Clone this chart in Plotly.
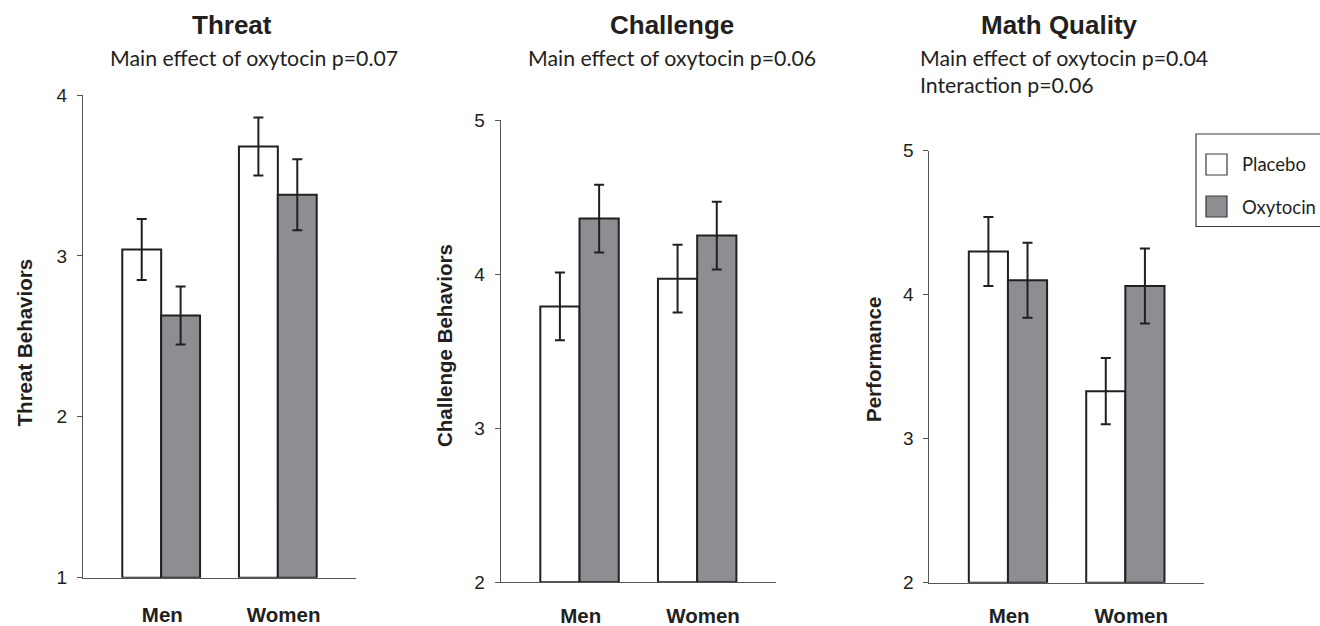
import plotly.graph_objects as go

# ---- data -------------------------------------------------------------
groups = ["Men", "Women"]
conditions = ["Placebo", "Oxytocin"]

threat_placebo = [3.04, 3.68]
threat_oxytocin = [2.63, 3.38]
threat_placebo_se = [0.19, 0.18]
threat_oxytocin_se = [0.18, 0.22]

challenge_placebo = [3.79, 3.97]
challenge_oxytocin = [4.36, 4.25]
challenge_placebo_se = [0.22, 0.22]
challenge_oxytocin_se = [0.22, 0.22]

math_placebo = [4.30, 3.33]
math_oxytocin = [4.10, 4.06]
math_placebo_se = [0.24, 0.23]
math_oxytocin_se = [0.26, 0.26]

panel_titles = ["Threat", "Challenge", "Math Quality"]
panel_notes = [
    ["Main effect of oxytocin p=0.07"],
    ["Main effect of oxytocin p=0.06"],
    ["Main effect of oxytocin p=0.04", "Interaction p=0.06"],
]
y_titles = ["Threat Behaviors", "Challenge Behaviors", "Performance"]
y_tick_values = [[1, 2, 3, 4], [2, 3, 4, 5], [2, 3, 4, 5]]

# ---- styling / layout --------------------------------------------------
W, H = 1320, 626
INK = "#231f20"
AXIS = "#555555"
FILL = {"Placebo": "#ffffff", "Oxytocin": "#8d8e92"}
BOLD_FONT = "Liberation Sans, Arial, sans-serif"
TEXT_FONT = "Lato, Calibri, sans-serif"


def fx(px):
    return px / W


def fy(py):
    return 1 - py / H


# pixel boxes of each plotting area: (left, right, top, bottom)
boxes = [(83, 356, 95, 577.7), (500.7, 776, 120, 582.3), (929.3, 1204, 150.7, 582.7)]
label_standoff = [19, 15, 15]
ytitle_pos = [(24.4, 343), (444, 346), (873, 360)]
title_pos = [(232, 25), (672, 25), (1059, 25)]
note_pos = [(254, 58, "center"), (672, 58, "center"), (918, 58, "left")]

panel_data = [
    (threat_placebo, threat_oxytocin, threat_placebo_se, threat_oxytocin_se),
    (challenge_placebo, challenge_oxytocin, challenge_placebo_se, challenge_oxytocin_se),
    (math_placebo, math_oxytocin, math_placebo_se, math_oxytocin_se),
]

fig = go.Figure()
annotations = []
x_pos = list(range(len(groups)))

for i, (plc, oxy, plc_se, oxy_se) in enumerate(panel_data):
    sfx = "" if i == 0 else str(i + 1)
    lo, hi = y_tick_values[i][0], y_tick_values[i][-1]
    for name, vals, se in (("Placebo", plc, plc_se), ("Oxytocin", oxy, oxy_se)):
        fig.add_trace(
            go.Bar(
                x=x_pos,
                y=[v - lo for v in vals],
                base=lo,
                name=name,
                showlegend=False,
                marker=dict(color=FILL[name], line=dict(color=INK, width=2)),
                error_y=dict(type="data", array=se, visible=True,
                             color=INK, thickness=2, width=5),
                xaxis="x" + sfx,
                yaxis="y" + sfx,
                offsetgroup=name,
            )
        )

    left, right, top, bottom = boxes[i]
    fig.layout["xaxis" + sfx] = dict(
        domain=[fx(left), fx(right)],
        anchor="y" + sfx,
        range=[-0.67, 1.67],
        tickmode="array",
        tickvals=[0.01, 1.05],
        ticktext=groups,
        ticks="",
        showline=True,
        linecolor=AXIS,
        linewidth=1,
        showgrid=False,
        zeroline=False,
        automargin=False,
        ticklabelstandoff=label_standoff[i],
        tickfont=dict(family=BOLD_FONT, size=20.5, color=INK, weight="bold"),
        fixedrange=True,
    )
    fig.layout["yaxis" + sfx] = dict(
        domain=[fy(bottom), fy(top)],
        anchor="x" + sfx,
        range=[lo, hi],
        tickmode="array",
        tickvals=y_tick_values[i],
        ticks="outside",
        ticklen=5,
        tickwidth=1,
        tickcolor=AXIS,
        showline=True,
        linecolor=AXIS,
        linewidth=1,
        showgrid=False,
        zeroline=False,
        automargin=False,
        ticklabelstandoff=6,
        tickfont=dict(family=BOLD_FONT, size=19, color=INK),
        fixedrange=True,
    )

    # panel heading and statistics note
    tx, ty = title_pos[i]
    annotations.append(dict(
        x=fx(tx), y=fy(ty), xref="paper", yref="paper", showarrow=False,
        text=panel_titles[i], xanchor="center", yanchor="middle",
        font=dict(family=BOLD_FONT, size=26, color=INK, weight="bold"),
    ))
    nx, ny, align = note_pos[i]
    for k, line in enumerate(panel_notes[i]):
        annotations.append(dict(
            x=fx(nx), y=fy(ny + 27 * k), xref="paper", yref="paper", showarrow=False,
            text=line, xanchor=align, yanchor="middle",
            font=dict(family=TEXT_FONT, size=21.3, color=INK),
        ))

    # vertical axis label
    ax_, ay_ = ytitle_pos[i]
    annotations.append(dict(
        x=fx(ax_), y=fy(ay_), xref="paper", yref="paper", showarrow=False,
        text=y_titles[i], textangle=-90, xanchor="center", yanchor="middle",
        font=dict(family=BOLD_FONT, size=20.5, color=INK, weight="bold"),
    ))

# ---- key for the two conditions (box runs off the right edge) -----------
key_left, key_top, key_bottom, key_far = 1196, 134, 226.5, 1330
key_outline = (
    f"M {fx(key_far)},{fy(key_top)} L {fx(key_left)},{fy(key_top)} "
    f"L {fx(key_left)},{fy(key_bottom)} L {fx(key_far)},{fy(key_bottom)}"
)
shapes = [dict(type="path", xref="paper", yref="paper", path=key_outline,
               line=dict(color="#3a3a3a", width=1.2))]
key_rows = [164.5, 206.5]
for name, cy in zip(conditions, key_rows):
    shapes.append(dict(type="rect", xref="paper", yref="paper",
                       x0=fx(1206), x1=fx(1227), y0=fy(cy + 10.5), y1=fy(cy - 10.5),
                       line=dict(color="#3a3a3a", width=1.2), fillcolor=FILL[name]))
    annotations.append(dict(
        x=fx(1240), y=fy(cy), xref="paper", yref="paper", showarrow=False,
        text=name, xanchor="left", yanchor="middle",
        font=dict(family=TEXT_FONT, size=18.5, color=INK),
    ))

fig.update_layout(
    width=W,
    height=H,
    margin=dict(l=0, r=0, t=0, b=0, autoexpand=False),
    paper_bgcolor="white",
    plot_bgcolor="white",
    barmode="group",
    bargap=1 / 3,
    bargroupgap=0,
    annotations=annotations,
    shapes=shapes,
    showlegend=False,
)

fig.write_html("out.html")
